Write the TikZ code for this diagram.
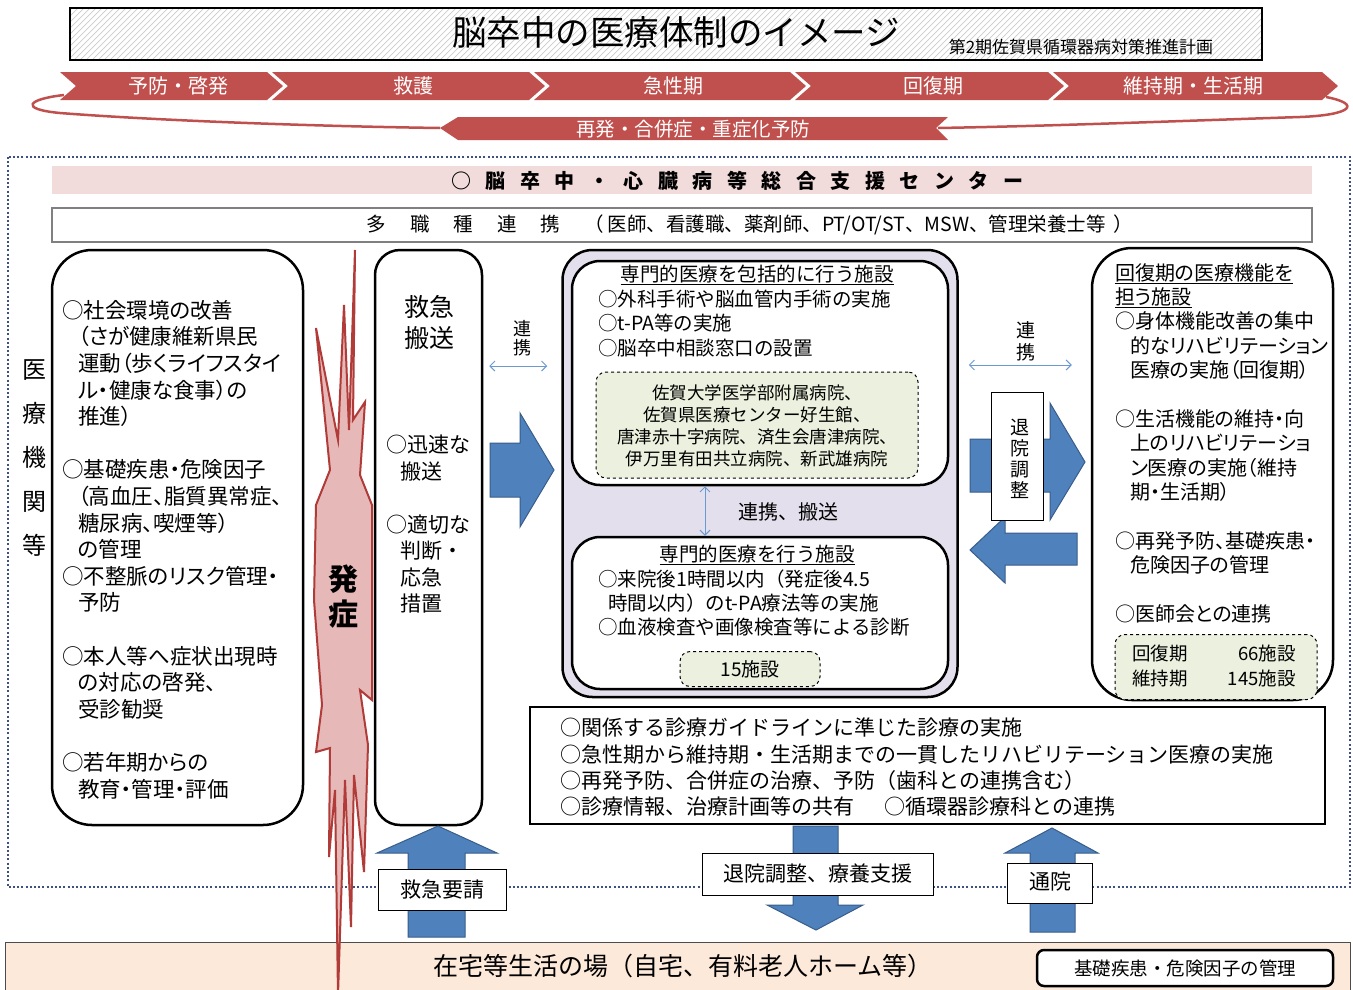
\documentclass[tikz,border=0pt]{standalone}
\usepackage{fontspec}
\setmainfont{Noto Sans CJK JP}
\usetikzlibrary{arrows.meta}
\definecolor{bandred}{HTML}{C0504D}
\definecolor{boltfill}{HTML}{E6B9B8}
\definecolor{boltline}{HTML}{B03B38}
\definecolor{pinkbar}{HTML}{F2DCDB}
\definecolor{lav}{HTML}{E4DFEC}
\definecolor{dashfill}{HTML}{EBF1DE}
\definecolor{homefill}{HTML}{FDE9D9}
\definecolor{ablue}{HTML}{4F81BD}
\definecolor{ablueline}{HTML}{385D8A}
\definecolor{lblue}{HTML}{6A9AD0}
\definecolor{frameblue}{HTML}{3F4F7F}
\newcommand\fsz[2]{\fontsize{#1}{#2}\selectfont}
\newcommand\palt{\addfontfeatures{RawFeature=+palt}}
\newcommand\indA{\hspace*{16pt}}
\newcommand\gapA{\hspace{14.5pt}}
\newcommand\gapB{\hspace{24pt}}
\begin{document}
\begin{tikzpicture}[x=1pt,y=-1pt,
  thickbox/.style={draw=black, line width=2.5pt, fill=white, inner sep=0pt},
  bluearrow/.style={fill=ablue, draw=ablueline, line width=1pt},
  lblbox/.style={draw=black, fill=white, line width=1pt, inner sep=0pt},
  dashbox/.style={draw=black, dashed, fill=dashfill, line width=1pt, rounded corners=10pt, inner sep=0pt},
  dbl/.style={lblue, line width=1pt, {Straight Barb[length=5pt,width=10pt]}-{Straight Barb[length=5pt,width=10pt]}},
  txt/.style={inner sep=0pt, text=black},
  chev/.style={inner sep=0pt, text=white, font=\fsz{20}{22}},
  ]
\useasboundingbox (0,0) rectangle (1353,989);
\fill[white] (0,0) rectangle (1353,989);

% ---------- title ----------
\begin{scope}
\clip (70,8) rectangle (1262,60);
\foreach \i in {0,6,...,1250} \draw[gray!40, line width=0.7pt] (\i+20,60) -- (\i+72,8);
\end{scope}
\node[draw=black, line width=1.2pt, minimum width=1192, minimum height=52, inner sep=0pt] (titlebox) at (666,34) {};
\node[txt, font=\fsz{34.5}{37}] (title) at (676,32) {脳卒中の医療体制のイメージ};
\node[txt, font=\fsz{17}{20}] (subtitle) at (1081,47) {第2期佐賀県循環器病対策推進計画};

% ---------- stage chevrons ----------
\foreach \a/\t in {60/283, 272/545, 534/806, 795/1064, 1053/1338}
  \fill[bandred] (\a,72) -- (\t-16,72) -- (\t,86) -- (\t-16,100) -- (\a,100) -- (\a+16,86) -- cycle;
\node[chev] (st1) at (178,86) {予防・啓発};
\node[chev] (st2) at (413,86) {救護};
\node[chev] (st3) at (673,86) {急性期};
\node[chev] (st4) at (933,86) {回復期};
\node[chev] (st5) at (1193,86) {維持期・生活期};

% recurrence banner and loop
\fill[bandred] (440,128) -- (458,117) -- (948,117) -- (936,128) -- (948,140) -- (458,140) -- cycle;
\node[chev, font=\fsz{19.5}{21}] (recur) at (693,129) {再発・合併症・重症化予防};
\draw[bandred, line width=2.5pt] (64,95) .. controls (28,99) and (18,109) .. (60,113) .. controls (150,120) and (300,126) .. (440,128);
\draw[bandred, line width=2.5pt] (1326,97) .. controls (1362,104) and (1352,115) .. (1300,117) .. controls (1150,122) and (1050,126) .. (938,128);

% ---------- dotted frame ----------
\draw[frameblue, line width=2.5pt, dash pattern=on 2pt off 2.2pt] (8,157) rectangle (1350,887);

% support center bar
\node[fill=pinkbar, minimum width=1260, minimum height=28, inner sep=0pt] (centerbar) at (682,180) {};
\node[txt, font=\fsz{20}{22}\bfseries] (centertxt) at (737,181) {○\gapA 脳\gapA 卒\gapA 中\gapA ・\gapA 心\gapA 臓\gapA 病\gapA 等\gapA 総\gapA 合\gapA 支\gapA 援\gapA セ\gapA ン\gapA タ\gapA ー};
\node[draw=gray, line width=1.2pt, fill=white, minimum width=1260, minimum height=34, inner sep=0pt] (multibox) at (682,225) {};
\node[txt, font=\fsz{19.5}{21}] (multitxt) at (750,225) {多\gapB 職\gapB 種\gapB 連\gapB 携\gapB （\hspace{4pt}医師、看護職、薬剤師、PT/OT/ST、MSW、管理栄養士等\hspace{8pt}）};

% ---------- left label ----------
\node[txt, font=\fsz{24}{44}, align=center] (kikan) at (35,458) {医\\療\\機\\関\\等};

% ---------- home band ----------
\draw[fill=homefill, draw=black!70, line width=1pt] (5,942) rectangle (1350,995);
\node[txt, font=\fsz{25}{27}] (home) at (683,966) {在宅等生活の場（自宅、有料老人ホーム等）};
\node[thickbox, rounded corners=7pt, minimum width=296, minimum height=36] (riskbox) at (1185,968) {};
\node[txt, font=\fsz{18.5}{20}] (risktxt) at (1185,968) {基礎疾患・危険因子の管理};

% ---------- prevention box ----------
\node[thickbox, rounded corners=40pt, minimum width=251, minimum height=575] (prev) at (177.5,537.5) {};
\node[txt, font=\fsz{21.5}{26.6}\palt, align=left, anchor=north west] (prevtxt) at (62,300) {%
○社会環境の改善\\
\indA（さが健康維新県民\\
\indA 運動（歩くライフスタイ\\
\indA ル・健康な食事）の\\
\indA 推進）\\
\mbox{}\\
○基礎疾患・危険因子\\
\indA（高血圧、脂質異常症、\\
\indA 糖尿病、喫煙等）\\
\indA の管理\\
○不整脈のリスク管理・\\
\indA 予防\\
\mbox{}\\
○本人等へ症状出現時\\
\indA の対応の啓発、\\
\indA 受診勧奨\\
\mbox{}\\
○若年期からの\\
\indA 教育・管理・評価};

% ---------- onset bolt ----------
\filldraw[fill=boltfill, draw=boltline, line width=2pt, line join=miter]
  (355,250) -- (353,420) -- (365,402) -- (360,475) -- (372,505) -- (372,700) -- (360,690)
  -- (368,745) -- (364,872) -- (354,775) -- (351,927) -- (345,780) -- (338,995) -- (335,790)
  -- (329,857) -- (330,748) -- (316,752) -- (322,705) -- (314,600) -- (316,505) -- (330,470)
  -- (316,328) -- (338,440) -- (344,305) -- (349,430) -- cycle;
\node[txt, font=\fsz{30}{35}\bfseries, align=center] (onset) at (343,597) {発\\症};

% ---------- emergency transport ----------
\node[thickbox, rounded corners=25pt, minimum width=107, minimum height=575] (ems) at (428.5,537.5) {};
\node[txt, font=\fsz{25}{31}, align=center] (emstitle) at (429,322) {救急\\搬送};
\node[txt, font=\fsz{21}{26.5}, align=left, anchor=north west] (emstxt) at (386,435) {%
○迅速な\\
\hspace*{14pt}搬送\\
\mbox{}\\
○適切な\\
\hspace*{14pt}判断・\\
\hspace*{14pt}応急\\
\hspace*{14pt}措置};

% ---------- acute phase ----------
\node[draw=black, line width=2.5pt, fill=lav, rounded corners=30pt, minimum width=395, minimum height=447, inner sep=0pt] (acute) at (760,473.5) {};
\node[thickbox, rounded corners=28pt, minimum width=376, minimum height=224] (comp) at (760,373) {};
\node[thickbox, rounded corners=28pt, minimum width=376, minimum height=152] (spec) at (760,613) {};
\node[txt, font=\fsz{19.5}{22}] (comptitle) at (757,275) {\underline{専門的医療を包括的に行う施設}};
\node[txt, font=\fsz{19.5}{24.3}, align=left, anchor=north west] (comptxt) at (598,290) {%
○外科手術や脳血管内手術の実施\\
○t-PA等の実施\\
○脳卒中相談窓口の設置};
\node[dashbox, minimum width=322, minimum height=106] (hosp) at (757,425) {};
\node[txt, font=\fsz{17.5}{21.8}, align=center] (hosptxt) at (757,426) {%
佐賀大学医学部附属病院、\\
佐賀県医療センター好生館、\\
唐津赤十字病院、済生会唐津病院、\\
伊万里有田共立病院、新武雄病院};
\draw[dbl] (comp.south -| 705,0) -- (spec.north -| 705,0);
\node[txt, font=\fsz{20}{22}] (linktr) at (788,512) {連携、搬送};
\node[txt, font=\fsz{19.5}{22}] (spectitle) at (757,555) {\underline{専門的医療を行う施設}};
\node[txt, font=\fsz{19.5}{24}, align=left, anchor=north west] (spectxt) at (598,570) {%
○来院後1時間以内（発症後4.5\\
\hspace*{10pt}時間以内）のt-PA療法等の実施\\
○血液検査や画像検査等による診断};
\node[dashbox, minimum width=140, minimum height=35] (n15) at (750,669) {};
\node[txt, font=\fsz{19}{21}] (n15txt) at (750,669) {15施設};

% ---------- recovery / maintenance ----------
\node[thickbox, rounded corners=40pt, minimum width=241, minimum height=452] (recov) at (1212.5,474) {};
\node[txt, font=\fsz{20}{24.4}\palt, align=left, anchor=north west] (recovtxt) at (1115,263) {%
\underline{回復期の医療機能を}\\
\underline{担う施設}\\
○身体機能改善の集中\\
\hspace*{15pt}的なリハビリテーション\\
\hspace*{15pt}医療の実施（回復期）\\
\mbox{}\\
○生活機能の維持・向\\
\hspace*{15pt}上のリハビリテーショ\\
\hspace*{15pt}ン医療の実施（維持\\
\hspace*{15pt}期・生活期）\\
\mbox{}\\
○再発予防、基礎疾患・\\
\hspace*{15pt}危険因子の管理\\
\mbox{}\\
○医師会との連携};
\node[dashbox, minimum width=202, minimum height=65] (recnum) at (1216,667) {};
\node[txt, font=\fsz{18.5}{25}] (recnumtxt) at (1214,668) {%
\begin{tabular}{@{}l@{\hspace{40pt}}r@{}}回復期 & 66施設\\ 維持期 & 145施設\end{tabular}};

% ---------- link labels & arrows ----------
\node[txt, font=\fsz{18}{19}, align=center] (link1) at (522,338) {連\\携};
\draw[dbl] ([xshift=6pt]ems.east |- 0,366) -- ([xshift=-14pt]acute.west |- 0,366);
\node[txt, font=\fsz{19}{22}, align=center] (link2) at (1026,341) {連\\携};
\draw[dbl] ([xshift=10pt]acute.east |- 0,365) -- ([xshift=-19pt]recov.west |- 0,365);

\filldraw[bluearrow] (490,443) -- (520,443) -- (520,413) -- (554,470) -- (520,527) -- (520,497) -- (490,497) -- cycle;
\filldraw[bluearrow] (970,439) -- (1050,439) -- (1050,403) -- (1085,462) -- (1050,520) -- (1050,492) -- (970,492) -- cycle;
\filldraw[bluearrow] (1077,533) -- (1005,533) -- (1005,517) -- (970,550) -- (1005,583) -- (1005,565) -- (1077,565) -- cycle;
\node[lblbox, minimum width=52, minimum height=128] (dischbox) at (1017,456) {};
\node[txt, font=\fsz{19}{21}, align=center] (dischtxt) at (1020,459) {退\\院\\調\\整};

% ---------- common functions ----------
\node[draw=black, line width=2.5pt, fill=white, minimum width=795, minimum height=117, inner sep=0pt] (common) at (927.5,765.5) {};
\node[txt, font=\fsz{21}{26.3}, align=left, anchor=north west] (commontxt) at (560,718) {%
○関係する診療ガイドラインに準じた診療の実施\\
○急性期から維持期・生活期までの一貫したリハビリテーション医療の実施\\
○再発予防、合併症の治療、予防（歯科との連携含む）\\
○診療情報、治療計画等の共有\hspace{30pt}○循環器診療科との連携};

% ---------- vertical arrows ----------
\filldraw[bluearrow] (438,826) -- (497,853) -- (465,853) -- (465,937) -- (408,937) -- (408,853) -- (377,853) -- cycle;
\node[lblbox, minimum width=128, minimum height=41] (call) at (442,890) {};
\node[txt, font=\fsz{21}{23}] (calltxt) at (442,889) {救急要請};

\filldraw[bluearrow] (793,826) -- (838,826) -- (838,905) -- (863,905) -- (816,930) -- (767,905) -- (793,905) -- cycle;
\node[lblbox, minimum width=231, minimum height=42] (support) at (818,874) {};
\node[txt, font=\fsz{21}{23}] (supporttxt) at (818,874) {退院調整、療養支援};

\filldraw[bluearrow] (1052,828) -- (1098,853) -- (1075,853) -- (1075,932) -- (1030,932) -- (1030,853) -- (1005,853) -- cycle;
\node[lblbox, minimum width=85, minimum height=40] (visit) at (1050,883) {};
\node[txt, font=\fsz{21}{23}] (visittxt) at (1050,882) {通院};
\end{tikzpicture}
\end{document}
